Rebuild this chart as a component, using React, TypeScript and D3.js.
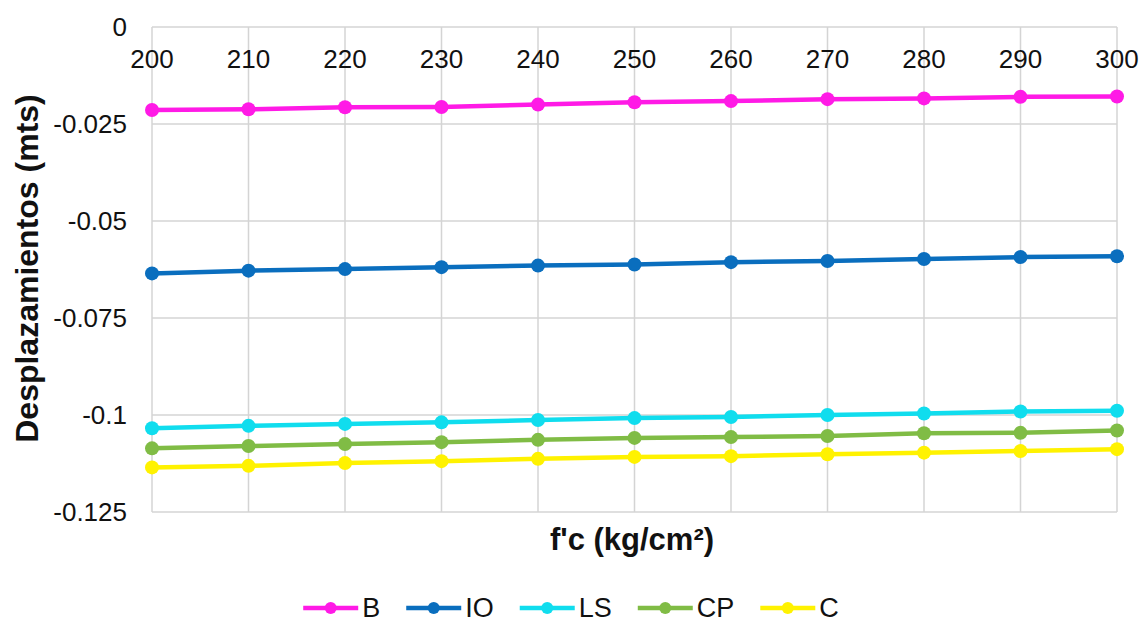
import React, { useEffect, useRef } from "react";
import * as d3 from "d3";

const fcValues = [200, 210, 220, 230, 240, 250, 260, 270, 280, 290, 300];
const seriesNames = ["B", "IO", "LS", "CP", "C"];
const seriesColors = ["#FF1AE6", "#0A6EBE", "#10DDEE", "#80BC45", "#FFF200"];
const valuesB = [-0.0214, -0.0212, -0.0207, -0.0206, -0.0200, -0.0194, -0.0191, -0.0186, -0.0184, -0.0180, -0.0179];
const valuesIO = [-0.0635, -0.0628, -0.0624, -0.0619, -0.0615, -0.0612, -0.0606, -0.0603, -0.0598, -0.0593, -0.0591];
const valuesLS = [-0.1034, -0.1028, -0.1023, -0.1019, -0.1013, -0.1008, -0.1005, -0.1000, -0.0996, -0.0991, -0.0989];
const valuesCP = [-0.1086, -0.1080, -0.1075, -0.1070, -0.1064, -0.1059, -0.1057, -0.1054, -0.1047, -0.1046, -0.1040];
const valuesC = [-0.1135, -0.1131, -0.1124, -0.1119, -0.1113, -0.1108, -0.1106, -0.1101, -0.1097, -0.1093, -0.1088];
const yTicks = [0, -0.025, -0.05, -0.075, -0.1, -0.125];
const yTickLabels = ["0", "-0.025", "-0.05", "-0.075", "-0.1", "-0.125"];
const xTitle = "f'c (kg/cm²)";
const yTitle = "Desplazamientos (mts)";

const W = 1142;
const H = 624;
const FONT = "'Liberation Sans', Arial, sans-serif";

export default function App() {
  const ref = useRef<SVGSVGElement | null>(null);

  useEffect(() => {
    const svg = d3.select(ref.current);
    svg.selectAll("*").remove();

    const left = 152, right = 1117, top = 27, bottom = 512;
    const x = d3.scaleLinear().domain([200, 300]).range([left, right]);
    const y = d3.scaleLinear().domain([0, -0.125]).range([top, bottom]);

    svg.append("rect").attr("width", W).attr("height", H).attr("fill", "#ffffff");

    const grid = svg.append("g");
    grid.selectAll("line.h").data(yTicks).enter().append("line")
      .attr("x1", left).attr("x2", right)
      .attr("y1", (d) => y(d)).attr("y2", (d) => y(d))
      .attr("stroke", "#d4d4d4").attr("stroke-width", 1.5);
    grid.selectAll("line.v").data(fcValues).enter().append("line")
      .attr("y1", top).attr("y2", bottom)
      .attr("x1", (d) => x(d)).attr("x2", (d) => x(d))
      .attr("stroke", "#d4d4d4").attr("stroke-width", 1.5);

    // x tick labels (top)
    svg.append("g").selectAll("text").data(fcValues).enter().append("text")
      .attr("x", (d) => x(d)).attr("y", 68)
      .attr("text-anchor", "middle")
      .attr("font-family", FONT).attr("font-size", 26).attr("fill", "#111")
      .text((d) => String(d));

    // y tick labels
    svg.append("g").selectAll("text").data(yTicks).enter().append("text")
      .attr("x", 127).attr("y", (d) => y(d) + 9)
      .attr("text-anchor", "end")
      .attr("font-family", FONT).attr("font-size", 26).attr("fill", "#111")
      .text((d, i) => yTickLabels[i]);

    // titles
    svg.append("text")
      .attr("transform", `translate(38,${(90 + 447) / 2}) rotate(-90)`)
      .attr("text-anchor", "middle")
      .attr("font-family", FONT).attr("font-weight", "bold").attr("font-size", 32).attr("fill", "#111")
      .text(yTitle);
    svg.append("text")
      .attr("x", 632).attr("y", 550)
      .attr("text-anchor", "middle")
      .attr("font-family", FONT).attr("font-weight", "bold").attr("font-size", 31).attr("fill", "#111")
      .text(xTitle);

    const allSeries = [valuesB, valuesIO, valuesLS, valuesCP, valuesC];
    const line = d3.line<number>().x((d, i) => x(fcValues[i])).y((d) => y(d));

    allSeries.forEach((vals, si) => {
      const g = svg.append("g");
      g.append("path").attr("d", line(vals) || "")
        .attr("fill", "none").attr("stroke", seriesColors[si]).attr("stroke-width", 4.5)
        .attr("stroke-linejoin", "round");
      g.selectAll("circle").data(vals).enter().append("circle")
        .attr("cx", (d, i) => x(fcValues[i])).attr("cy", (d) => y(d))
        .attr("r", 7).attr("fill", seriesColors[si]);
    });

    // legend
    const legend = svg.append("g");
    const lineLen = 55, textGap = 4, itemGap = 26, lineY = 608, textY = 617;
    const items: { g: any; w: number }[] = [];
    seriesNames.forEach((name, i) => {
      const g = legend.append("g");
      g.append("line").attr("x1", 0).attr("x2", lineLen).attr("y1", lineY).attr("y2", lineY)
        .attr("stroke", seriesColors[i]).attr("stroke-width", 4.5);
      g.append("circle").attr("cx", lineLen / 2).attr("cy", lineY).attr("r", 6).attr("fill", seriesColors[i]);
      const t = g.append("text").attr("x", lineLen + textGap).attr("y", textY)
        .attr("font-family", FONT).attr("font-size", 27).attr("fill", "#111").text(name);
      const tw = (t.node() as SVGTextElement).getComputedTextLength();
      items.push({ g, w: lineLen + textGap + tw });
    });
    const total = items.reduce((s, it) => s + it.w, 0) + itemGap * (items.length - 1);
    let cx = 571 - total / 2;
    items.forEach((it) => {
      it.g.attr("transform", `translate(${cx},0)`);
      cx += it.w + itemGap;
    });
  }, []);

  return (
    <svg
      ref={ref}
      width={W}
      height={H}
      style={{ position: "absolute", left: 0, top: 0, display: "block" }}
    />
  );
}
